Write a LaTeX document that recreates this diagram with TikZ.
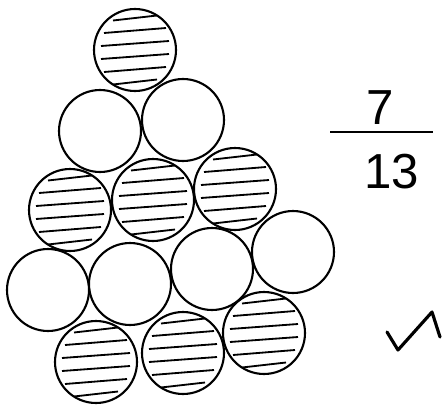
\documentclass[tikz,border=0pt]{standalone}
\usepackage{fontspec}
\setmainfont{Liberation Sans}
\usepackage{tikz}
\usetikzlibrary{calc}

\begin{document}
\begin{tikzpicture}[x=0.05cm, y=-0.05cm,
  ball/.style={circle, draw, line width=3pt, minimum size=4.1cm, inner sep=0pt},
  hatched/.style={ball, path picture={
    \foreach \dy/\hw in {-32/22,-19.5/31,-6.5/34,6.5/34,19.5/31,32/22}
      \draw[line width=2.6pt] ([shift={(-\hw,\dy+2.5)}]path picture bounding box.center)
        -- ([shift={(\hw,\dy-2.5)}]path picture bounding box.center);}},
  numeral/.style={font=\fontsize{70}{70}\selectfont, inner sep=0pt}]
\useasboundingbox (0,0) rectangle (443,405);
% top row
\node[hatched] (a) at (135,50) {};
% second row
\node[ball] (b1) at (100,131) {};
\node[ball] (b2) at (183,120) {};
% third row
\node[hatched] (c1) at (70,210) {};
\node[hatched] (c2) at (153,200) {};
\node[hatched] (c3) at (235,189) {};
% fourth row
\node[ball] (d1) at (48,290) {};
\node[ball] (d2) at (130,284) {};
\node[ball] (d3) at (212,269) {};
\node[ball] (d4) at (293,252) {};
% bottom row
\node[hatched] (e1) at (96,362) {};
\node[hatched] (e2) at (183,353) {};
\node[hatched] (e3) at (264,333) {};
% the fraction
\node[numeral] (num) at (380,108) {7};
\node[numeral] (den) at (392,172) {13};
\draw[line width=3pt] (330,132) -- (433,132);
% tick
\draw[line width=4.5pt, line join=round, line cap=round]
  (387,332) -- (398,350) -- (432,312) -- (440,337);
\end{tikzpicture}
\end{document}
